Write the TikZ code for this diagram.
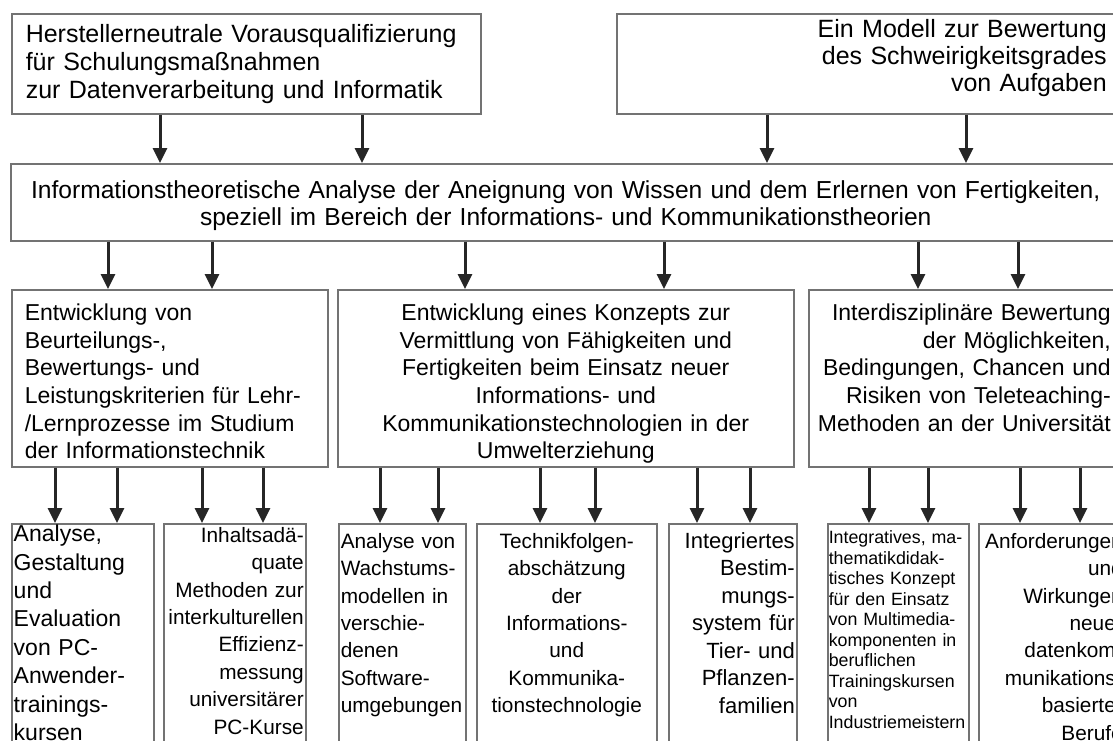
\documentclass[tikz,border=0pt]{standalone}
\usepackage{fontspec}
\setmainfont{Liberation Sans}
\usetikzlibrary{arrows.meta}
\lineskiplimit=-\maxdimen

\tikzset{
  box/.style={draw=black!55, line width=0.75pt, anchor=north west, inner ysep=1pt},
  head/.style={box, font=\fontsize{12.5}{13.5}\selectfont},
  topic/.style={box, inner xsep=6.5pt, font=\fontsize{11.5}{13.8}\selectfont,
                text height=14.5pt, text depth=72pt},
  cell/.style={box, inner xsep=1pt, font=\fontsize{10.4}{13.7}\selectfont,
               text height=11.25pt, text depth=120pt},
  arr/.style={-{Triangle[width=7pt,length=7.5pt]}, line width=1.5pt, draw=black!85},
}

\begin{document}
\begin{tikzpicture}[x=0.5pt, y=-0.5pt]
\useasboundingbox (0,0) rectangle (1113,740);
\clip (0,0) rectangle (1113,740);

% top row
\node[head, inner xsep=7pt, text height=13.5pt, text depth=34.5pt, text width=220.5pt, align=left,
      font=\fontsize{12.5}{14}\selectfont] (hst) at (11,13)
  {Herstellerneutrale Vorausqualifizierung\\ für Schulungsmaßnahmen\\ zur Datenverarbeitung und Informatik};
\node[head, inner xsep=4pt, text height=10.75pt, text depth=37.25pt, text width=241pt, align=right] (mod) at (616,13)
  {Ein Modell zur Bewertung\\ des Schweirigkeitsgrades\\ von Aufgaben};

% analysis
\node[head, inner xsep=4pt, text height=16.5pt, text depth=20pt, text width=547pt, align=center,
      font=\fontsize{12.3}{13.2}\selectfont] (inf) at (10,163)
  {Informationstheoretische Analyse der Aneignung von Wissen und dem Erlernen von Fertigkeiten,\\
   speziell im Bereich der Informations- und Kommunikationstheorien};

% topics
\node[topic, text width=145pt, align=left] (beu) at (11,289)
  {Entwicklung von\\ Beurteilungs-,\\ Bewertungs- und\\ Leistungskriterien für Lehr-\\ /Lernprozesse im Studium\\ der Informationstechnik};
\node[topic, text width=215pt, align=center] (ent) at (337,289)
  {Entwicklung eines Konzepts zur\\ Vermittlung von Fähigkeiten und\\ Fertigkeiten beim Einsatz neuer\\ Informations- und\\ Kommunikationstechnologien in der\\ Umwelterziehung};
\node[topic, inner xsep=3pt, text width=148pt, align=right] (int) at (808,289)
  {Interdisziplinäre Bewertung\\ der Möglichkeiten,\\ Bedingungen, Chancen und\\ Risiken von Teleteaching-\\ \mbox{Methoden an der Universität}};

% projects
\node[cell, text width=69pt, align=left, text height=8pt, font=\fontsize{11.5}{14.2}\selectfont] (ana) at (11,523)
  {Analyse,\\ Gestaltung\\ und\\ Evaluation\\ von PC-\\ Anwender-\\ trainings-\\ kursen};
\node[cell, text width=69pt, align=right, text height=8.25pt] (inh) at (163,523)
  {Inhaltsadä-\\ quate\\ Methoden zur\\ interkulturellen\\ Effizienz-\\ messung\\ universitärer\\ PC-Kurse};
\node[cell, text width=61.5pt, align=left] (wac) at (338,523)
  {Analyse von\\ Wachstums-\\ modellen in\\ verschie-\\ denen\\ Software-\\ umgebungen};
\node[cell, text width=88pt, align=center] (tec) at (476,523)
  {Technikfolgen-\\ abschätzung\\ der\\ Informations-\\ und\\ Kommunika-\\ tionstechnologie};
\node[cell, text width=62pt, align=right, font=\fontsize{11}{13.75}\selectfont] (bes) at (668,523)
  {Integriertes\\ Bestim-\\ mungs-\\ system für\\ Tier- und\\ Pflanzen-\\ familien};
\node[cell, inner xsep=0.5pt, text width=69.5pt, align=left, text height=9pt,
      font=\fontsize{8.9}{10.25}\selectfont] (mul) at (827,523)
  {Integratives, ma-\\ thematikdidak-\\ tisches Konzept\\ für den Einsatz\\ von Multimedia-\\ komponenten in\\ beruflichen\\ Trainingskursen\\ von\\ Industriemeistern};
\node[cell, text width=71pt, align=right] (anf) at (978,523)
  {Anforderungen\\ und\\ Wirkungen\\ neuer\\ datenkom-\\ munikations-\\ basierter\\ Berufe};

% arrows
\draw[arr] (hst.south -| 160,0) -- (inf.north -| 160,0);
\draw[arr] (hst.south -| 362,0) -- (inf.north -| 362,0);
\draw[arr] (mod.south -| 767,0) -- (inf.north -| 767,0);
\draw[arr] (mod.south -| 966,0) -- (inf.north -| 966,0);

\draw[arr] (inf.south -| 108,0) -- (beu.north -| 108,0);
\draw[arr] (inf.south -| 212,0) -- (beu.north -| 212,0);
\draw[arr] (inf.south -| 465,0) -- (ent.north -| 465,0);
\draw[arr] (inf.south -| 664,0) -- (ent.north -| 664,0);
\draw[arr] (inf.south -| 918,0) -- (int.north -| 918,0);
\draw[arr] (inf.south -| 1018,0) -- (int.north -| 1018,0);

\draw[arr] (beu.south -| 55,0) -- (ana.north -| 55,0);
\draw[arr] (beu.south -| 117,0) -- (ana.north -| 117,0);
\draw[arr] (beu.south -| 202,0) -- (inh.north -| 202,0);
\draw[arr] (beu.south -| 263,0) -- (inh.north -| 263,0);
\draw[arr] (ent.south -| 380,0) -- (wac.north -| 380,0);
\draw[arr] (ent.south -| 438,0) -- (wac.north -| 438,0);
\draw[arr] (ent.south -| 540,0) -- (tec.north -| 540,0);
\draw[arr] (ent.south -| 595,0) -- (tec.north -| 595,0);
\draw[arr] (ent.south -| 697,0) -- (bes.north -| 697,0);
\draw[arr] (ent.south -| 750,0) -- (bes.north -| 750,0);
\draw[arr] (int.south -| 869,0) -- (mul.north -| 869,0);
\draw[arr] (int.south -| 928,0) -- (mul.north -| 928,0);
\draw[arr] (int.south -| 1020,0) -- (anf.north -| 1020,0);
\draw[arr] (int.south -| 1080,0) -- (anf.north -| 1080,0);

\end{tikzpicture}
\end{document}
